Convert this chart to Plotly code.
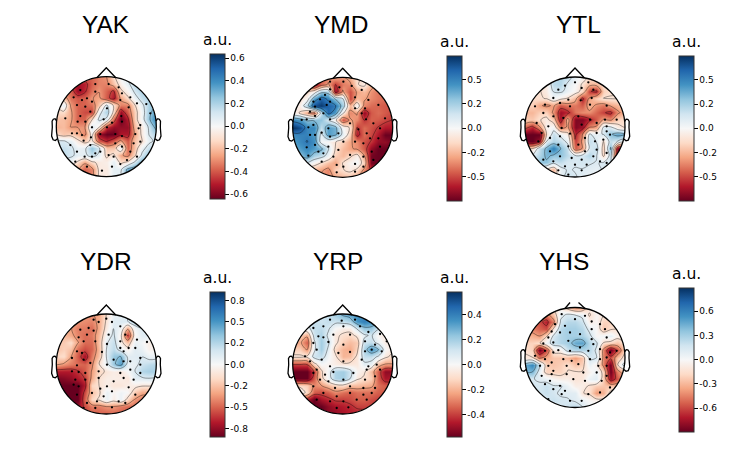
import numpy as np
from plotly import graph_objects as go

W, H = 747, 466

names = ['YAK', 'YMD', 'YTL', 'YDR', 'YRP', 'YHS']

# colour limits of each map
vmax = {'YAK': 0.64, 'YMD': 0.745, 'YTL': 0.75, 'YDR': 0.85, 'YRP': 0.58, 'YHS': 0.89}

ticks = {
    'YAK': [-0.6, -0.4, -0.2, 0, 0.2, 0.4, 0.6],
    'YMD': [-0.5, -0.25, 0, 0.25, 0.5],
    'YTL': [-0.5, -0.25, 0, 0.25, 0.5],
    'YDR': [-0.75, -0.5, -0.25, 0, 0.25, 0.5, 0.75],
    'YRP': [-0.4, -0.2, 0, 0.2, 0.4],
    'YHS': [-0.6, -0.3, 0, 0.3, 0.6],
}
tick_labels = {
    'YAK': ['-0.6', '-0.4', '-0.2', '0.0', '0.2', '0.4', '0.6'],
    'YMD': ['-0.5', '-0.2', '0.0', '0.2', '0.5'],
    'YTL': ['-0.5', '-0.2', '0.0', '0.2', '0.5'],
    'YDR': ['-0.8', '-0.5', '-0.2', '0.0', '0.2', '0.5', '0.8'],
    'YRP': ['-0.4', '-0.2', '0.0', '0.2', '0.4'],
    'YHS': ['-0.6', '-0.3', '0.0', '0.3', '0.6'],
}

# map values, top row first, on a 15x15 grid across the head
yak = [
    [-.38, -.38, -.38, -.38, -.38, -.38, -.32, -.28, -.12, .02, .12, .15, .15, .15, .15],
    [-.45, -.45, -.45, -.54, -.5, -.38, -.32, -.32, -.18, -.04, .06, .18, .22, .22, .22],
    [-.38, -.38, -.38, -.56, -.48, -.35, -.28, -.38, -.48, -.12, -.02, .12, .2, .22, .22],
    [-.2, -.2, -.35, -.4, -.38, -.28, -.25, -.4, -.52, -.25, -.12, .04, .15, .2, .25],
    [-.1, .06, -.28, -.38, -.38, -.35, -.18, .12, -.1, -.32, -.32, -.1, .06, .2, .28],
    [-.12, -.12, -.25, -.38, -.42, -.44, .04, .2, -.12, -.56, -.38, -.15, .02, .22, .4],
    [-.18, -.2, -.25, -.38, -.38, -.1, .12, .06, -.38, -.64, -.5, -.15, .02, .25, .44],
    [-.22, -.2, -.28, -.28, -.28, .1, -.06, -.48, -.56, -.56, -.56, -.2, -.06, .12, .35],
    [-.12, -.18, -.15, -.22, -.32, -.02, -.56, -.64, -.64, -.52, -.52, -.25, -.06, .1, .2],
    [.1, .1, .06, -.06, -.15, -.06, -.38, -.48, -.38, -.25, -.4, -.18, -.1, .06, .12],
    [.15, .15, .12, .04, .06, .25, .12, -.18, -.18, .06, -.38, -.18, .04, .15, .15],
    [.16, .16, .12, .06, .06, .15, .06, -.12, -.06, -.25, -.32, -.12, .12, .25, .25],
    [.02, .02, .02, -.12, -.25, -.12, -.06, -.04, .06, -.12, -.06, .12, .32, .32, .32],
    [-.12, -.12, -.2, -.25, -.38, -.32, -.06, -.06, .06, .06, .32, .38, .38, .38, .38],
    [-.12, -.12, -.2, -.25, -.38, -.32, -.06, -.06, .06, .06, .32, .38, .38, .38, .38],
]
ymd = [
    [-.48, -.48, -.54, -.6, -.48, -.36, -.3, -.34, -.26, -.12, -.1, -.24, -.36, -.36, -.36],
    [-.36, -.36, -.42, -.66, -.42, -.3, -.54, -.38, -.36, -.12, -.06, -.26, -.36, -.36, -.36],
    [-.18, -.18, -.14, -.02, .26, .24, -.66, -.3, -.48, -.3, -.24, -.34, -.4, -.4, -.4],
    [-.12, -.1, 0, .42, .6, .5, .3, .12, -.5, -.24, -.3, -.36, -.4, -.42, -.42],
    [-.06, -.04, .24, .66, .72, .6, .54, .24, -.26, .02, -.36, -.42, -.44, -.46, -.46],
    [-.02, -.12, -.3, -.42, .18, .6, .42, -.06, -.36, -.3, -.66, -.46, -.42, -.46, -.5],
    [.48, .42, .3, .3, .3, .12, -.06, -.48, -.3, -.36, -.54, -.44, -.46, -.5, -.54],
    [.74, .66, .48, .48, .18, .42, .36, 0, -.12, -.54, -.42, -.48, -.54, -.6, -.6],
    [.48, .5, .5, .42, .06, .42, .36, .06, -.18, -.6, -.42, -.5, -.6, -.74, -.74],
    [.42, .48, .54, .46, .02, -.02, -.1, -.18, -.3, -.36, -.48, -.54, -.66, -.66, -.72],
    [.36, .42, .48, .42, .36, .12, -.12, -.24, -.3, -.34, -.46, -.66, -.74, -.74, -.74],
    [.24, .3, .42, .24, .18, .04, -.18, -.24, -.14, -.04, -.3, -.72, -.74, -.74, -.74],
    [.12, .12, .1, -.02, -.12, -.22, -.3, -.1, -.02, .02, -.18, -.72, -.74, -.74, -.74],
    [-.24, -.24, -.24, -.24, -.3, -.36, -.18, -.12, -.06, -.14, -.36, -.54, -.6, -.6, -.6],
    [-.3, -.3, -.3, -.3, -.36, -.36, -.3, -.24, -.24, -.3, -.42, -.48, -.48, -.48, -.48],
]
ytl = [
    [0, 0, 0, .06, .18, .22, .18, .06, -.02, -.12, -.12, -.12, -.12, -.12, -.12],
    [-.12, -.12, -.12, -.05, .2, .22, .08, 0, -.12, -.25, -.25, -.12, -.12, -.12, -.12],
    [-.12, -.12, -.12, -.06, .12, .14, .05, -.03, -.15, -.52, -.58, -.18, -.12, -.12, -.12],
    [-.14, -.14, -.12, -.1, .02, -.06, -.12, -.25, -.58, -.3, -.18, -.1, -.1, -.1, -.12],
    [-.18, -.18, -.3, -.35, -.3, -.46, -.4, -.4, -.46, -.25, -.35, -.4, -.3, -.25, -.18],
    [-.25, -.25, -.18, -.18, -.35, -.64, -.58, -.4, -.35, -.35, -.44, -.52, -.58, -.35, -.25],
    [-.18, -.2, -.12, -.06, -.2, -.64, -.25, -.7, -.7, -.58, -.46, -.3, -.35, -.18, -.12],
    [-.46, -.58, -.35, -.02, .02, -.4, -.3, -.7, -.64, -.35, -.3, .12, .12, -.06, -.12],
    [-.75, -.75, -.75, -.12, .18, .06, -.06, -.58, -.35, .12, .06, .12, .3, .4, .35],
    [-.75, -.75, -.64, .1, .22, .18, .06, -.52, -.3, .18, .1, -.12, .18, .1, -.06],
    [-.12, -.12, .18, .35, .52, .32, .18, -.46, -.32, .12, .18, -.18, .35, -.7, -.75],
    [.12, .12, .22, .35, .3, .3, .2, .12, .14, .22, .12, -.14, .18, -.7, -.75],
    [.12, .12, .3, .3, .14, .18, .12, .12, .14, .12, .1, .12, .12, -.25, -.25],
    [.06, .06, -.06, -.14, -.25, .06, .12, .1, .1, .08, .06, .12, .1, .06, .06],
    [.06, .06, -.06, -.12, -.18, .06, .18, .12, .08, .06, .06, .06, .06, .06, .06],
]
ydr = [
    [-.32, -.32, -.32, -.32, -.35, -.38, -.32, -.12, .06, .06, .12, .15, .12, .12, .12],
    [-.32, -.32, -.32, -.38, -.4, -.42, -.32, -.1, .1, .12, .12, .28, .15, .12, .12],
    [-.32, -.32, -.35, -.44, -.44, -.48, -.32, -.06, .12, .02, -.32, .02, .12, .12, .12],
    [-.25, -.28, -.32, -.42, -.48, -.44, -.28, .02, .15, -.06, -.62, -.02, .1, .1, .1],
    [-.22, -.22, -.15, -.35, -.48, -.48, -.25, .1, .2, -.06, -.25, .06, .02, -.06, -.04],
    [-.25, -.2, -.25, -.48, -.56, -.5, -.28, .12, .22, .06, -.04, .1, .06, -.04, -.02],
    [-.18, -.15, -.35, -.52, -.72, -.44, -.25, .12, .32, .38, .1, .1, .12, .06, .06],
    [-.32, -.38, -.44, -.48, -.5, -.4, -.12, .06, .32, .48, .06, .06, .18, .22, .25],
    [-.68, -.68, -.68, -.62, -.52, -.35, -.18, -.1, -.06, -.1, 0, .12, .25, .28, .28],
    [-.8, -.78, -.75, -.68, -.6, -.32, -.12, -.06, -.06, -.06, -.1, .1, .1, .12, .1],
    [-.85, -.85, -.85, -.85, -.68, -.18, -.12, -.06, -.1, -.1, -.06, -.06, -.1, -.1, -.12],
    [-.85, -.85, -.85, -.85, -.56, -.25, -.15, .06, -.02, .04, 0, -.22, -.32, -.32, -.32],
    [-.85, -.85, -.85, -.85, -.5, -.18, -.1, .06, -.06, .06, -.18, -.38, -.44, -.44, -.44],
    [-.85, -.85, -.85, -.75, -.56, -.44, -.44, -.38, -.38, -.44, -.48, -.48, -.5, -.5, -.5],
    [-.62, -.62, -.62, -.62, -.56, -.52, -.52, -.52, -.5, -.52, -.52, -.52, -.52, -.52, -.52],
]
yrp = [
    [.12, .12, .12, .12, .12, .14, .2, .28, .32, .35, .35, .28, .22, .22, .22],
    [.06, .06, .1, .14, .12, .14, .12, .14, .18, .35, .4, .35, .28, .2, .2],
    [0, 0, .04, .14, .15, .1, 0, -.04, -.04, .1, .22, .22, .1, .06, .06],
    [-.12, -.14, -.22, .12, .18, .06, -.06, -.1, -.12, -.06, .06, .1, -.02, -.06, -.06],
    [-.22, -.22, -.35, .06, .2, .1, -.06, -.14, -.18, -.15, .12, .14, .04, -.04, -.06],
    [-.14, -.14, -.25, .06, .2, .06, -.12, -.2, -.22, -.12, .18, .35, .25, 0, -.06],
    [-.06, -.06, -.06, .12, .14, .02, -.06, -.2, -.18, -.06, .14, .14, .06, -.06, -.12],
    [-.4, -.4, -.4, -.12, 0, -.02, -.04, -.06, -.06, -.06, .06, .04, -.18, -.25, -.25],
    [-.58, -.58, -.58, -.4, -.1, .02, .18, .2, .12, -.02, -.06, -.18, -.35, -.52, -.52],
    [-.58, -.58, -.58, -.35, -.12, .02, .18, .2, .1, -.06, -.1, -.14, -.35, -.48, -.46],
    [-.12, -.12, -.14, -.28, -.25, -.18, -.12, -.1, -.18, -.18, -.2, -.22, -.32, -.35, -.35],
    [.02, .02, -.12, -.35, -.38, -.35, -.28, -.32, -.35, -.32, -.32, -.32, -.35, -.35, -.35],
    [-.22, -.35, -.46, -.58, -.48, -.44, -.4, -.4, -.38, -.35, -.35, -.38, -.4, -.4, -.4],
    [-.46, -.52, -.58, -.58, -.58, -.52, -.48, -.46, -.44, -.4, -.4, -.4, -.44, -.44, -.44],
    [-.52, -.58, -.58, -.58, -.58, -.52, -.52, -.48, -.46, -.46, -.44, -.44, -.44, -.44, -.44],
]
yhs = [
    [-.12, -.12, -.18, -.25, -.12, -.06, -.22, -.38, -.32, -.06, -.02, -.06, -.12, -.12, -.12],
    [-.32, -.38, -.38, -.45, -.25, .08, .15, .12, .08, -.15, -.02, -.12, -.2, -.2, -.2],
    [-.52, -.52, -.58, -.7, -.45, .15, .25, .25, .18, -.06, -.02, -.2, -.2, -.2, -.2],
    [-.45, -.45, -.52, -.58, -.1, .25, .3, .3, .25, .08, 0, -.25, -.15, -.12, -.12],
    [-.32, -.32, -.38, -.15, .16, .26, .3, .3, .28, .18, -.02, .03, .08, -.06, -.06],
    [-.2, -.2, -.15, .04, .2, .26, .3, .45, .48, .25, .16, -.15, -.2, -.25, -.12],
    [-.15, -.2, -.88, -.58, -.06, -.04, .2, .26, .26, .25, .1, -.45, -.88, -.58, -.15],
    [-.1, -.12, -.45, -.32, -.25, -.25, -.28, -.38, -.25, .16, .14, -.45, -.58, -.25, -.06],
    [.45, .58, .2, -.22, -.25, -.22, -.15, -.25, -.2, .06, -.06, -.45, -.88, -.12, .25],
    [.4, .4, .06, -.2, -.2, -.2, -.12, -.12, -.12, -.04, .06, -.2, -.88, -.45, -.25],
    [.14, .14, .1, .06, -.02, -.06, -.06, -.12, -.1, .06, .1, -.22, -.78, -.55, -.38],
    [.16, .16, .16, .2, .14, .14, .06, -.06, -.06, -.15, -.22, -.25, -.25, -.25, -.25],
    [.16, .16, .16, .2, .16, .1, .1, .1, -.12, -.15, -.38, -.32, -.06, .1, .1],
    [.14, .14, .14, .16, .2, .16, .14, .1, .06, -.02, -.06, -.06, .06, .14, .14],
    [.14, .14, .14, .14, .14, .14, .2, .26, .14, .06, .06, .06, .06, .06, .06],
]
maps = {'YAK': yak, 'YMD': ymd, 'YTL': ytl, 'YDR': ydr, 'YRP': yrp, 'YHS': yhs}

# sensor dots, head radius = 150
yak_sensors = [(-33,128),(7,128),(37,118),(-78,110),(-33,105),(47,100),(-98,88),(-58,85),(-73,80),(-43,75),(42,80),(72,88),(-88,65),(-63,60),(2,55),(-48,45),(67,58),(92,70),(120,68),(-78,32),(-123,25),(-63,15),(-86,15),(-8,22),(45,32),(47,15),(132,40),(17,12),(102,5),(-43,-2),(-103,-20),(-88,-20),(-73,-25),(2,-2),(97,-5),(87,-22),(-68,-42),(-108,-55),(-46,-32),(-18,-22),(27,-22),(47,-28),(102,-45),(82,-50),(-88,-75),(-48,-55),(-18,-75),(27,-50),(47,-60),(-65,-90),(-43,-90),(7,-85),(22,-90),(72,-75),(92,-90),(-93,-105),(-58,-120),(-13,-132),(17,-120),(42,-112),(62,-100),(-33,-80)]
ymd_sensors = [(-38,137),(2,137),(27,124),(-10,120),(57,112),(-38,114),(-53,97),(-68,84),(-88,77),(37,90),(77,82),(-48,67),(-83,62),(-98,47),(-38,77),(67,57),(107,67),(37,57),(57,42),(127,27),(-38,24),(-58,42),(-83,34),(-108,24),(-123,22),(-88,7),(-103,0),(-43,-3),(22,12),(70,24),(92,12),(47,-6),(72,-18),(112,-3),(-83,-23),(-98,-23),(-38,-28),(-63,-16),(-13,-18),(82,-33),(107,-33),(2,-43),(-83,-53),(-108,-60),(-73,-73),(-43,-58),(-13,-68),(37,-43),(62,-48),(112,-58),(87,-73),(-103,-85),(-58,-78),(-28,-88),(22,-83),(62,-88),(92,-98),(-63,-103),(-18,-113),(37,-110),(2,-118),(62,-118),(37,-133),(-18,-135)]
ytl_sensors = [(-30,124),(0,134),(40,134),(-50,112),(20,117),(55,112),(-65,87),(-20,82),(17,80),(50,87),(-90,67),(-120,62),(-15,62),(-45,72),(95,64),(45,67),(-95,42),(-65,32),(-35,27),(10,32),(45,22),(90,22),(125,22),(-115,12),(-100,-18),(-80,2),(-40,-3),(20,7),(65,12),(95,2),(-75,-33),(-45,-28),(-15,-20),(30,-33),(65,-18),(105,-23),(95,-13),(-110,-43),(-50,-53),(-20,-58),(10,-53),(60,-43),(85,-38),(-75,-73),(-45,-88),(30,-73),(65,-68),(95,-78),(-95,-98),(-65,-103),(-10,-93),(20,-98),(55,-88),(75,-103),(95,-108),(-30,-118),(0,-113),(35,-113),(-20,-143),(20,-130),(-50,-130)]
ydr_sensors = [(0,136),(-23,126),(-38,133),(-53,108),(17,126),(42,113),(-78,103),(-38,100),(-58,88),(-83,80),(7,88),(57,88),(-68,68),(-33,68),(2,60),(42,68),(92,73),(122,66),(-88,38),(-73,33),(-13,36),(42,48),(67,48),(87,48),(52,38),(-103,18),(-68,13),(22,13),(52,8),(102,18),(-88,-4),(-48,3),(2,-2),(72,8),(102,-2),(-103,-22),(-83,-24),(-63,-27),(-23,-22),(42,-27),(72,-17),(102,-27),(-93,-47),(-63,-47),(-23,-42),(22,-52),(52,-42),(82,-47),(-98,-62),(-83,-67),(-18,-74),(2,-67),(67,-70),(17,-82),(-88,-92),(-43,-87),(-8,-97),(87,-92),(-58,-117),(-28,-112),(37,-112),(57,-117),(-68,-132),(-33,-132),(17,-130)]
yrp_sensors = [(-38,133),(-3,130),(37,133),(-58,113),(2,113),(-88,108),(52,113),(77,96),(-73,83),(-58,80),(-28,88),(22,88),(112,90),(-88,63),(-43,66),(2,58),(67,68),(97,58),(132,68),(-78,43),(-13,33),(22,36),(87,43),(67,38),(117,38),(-113,23),(-63,13),(-98,8),(-38,-7),(2,8),(57,13),(77,-7),(102,-2),(-78,-17),(-53,-32),(-88,-27),(-28,-24),(32,-27),(72,-17),(112,-17),(-68,-47),(-43,-52),(2,-47),(67,-47),(97,-37),(-88,-67),(-23,-72),(22,-67),(62,-72),(97,-72),(-58,-87),(-18,-97),(22,-87),(62,-92),(87,-87),(-78,-107),(-38,-112),(2,-112),(42,-107),(72,-107),(-18,-132),(17,-130)]
yhs_sensors = [(-40,130),(0,115),(30,125),(-60,100),(-30,95),(50,108),(75,100),(-70,78),(-45,75),(-15,75),(50,85),(90,85),(15,70),(-80,60),(-20,50),(-65,45),(50,55),(95,60),(-95,42),(15,30),(-50,22),(55,40),(75,25),(125,20),(-90,20),(-65,15),(-15,20),(40,20),(105,15),(-120,5),(-90,-5),(-70,-15),(-35,-5),(-10,-10),(45,-5),(75,-5),(95,0),(-105,-25),(-80,-25),(-65,-40),(-25,-25),(10,-20),(70,-25),(95,-25),(-100,-55),(-70,-50),(-25,-50),(25,-45),(65,-45),(95,-55),(-75,-70),(-45,-85),(-5,-65),(30,-70),(80,-70),(-90,-80),(-65,-95),(-30,-100),(40,-110),(75,-105),(105,-90),(-40,-110),(-15,-130),(20,-130),(-80,-125)]
sensors = {'YAK': yak_sensors, 'YMD': ymd_sensors, 'YTL': ytl_sensors,
           'YDR': ydr_sensors, 'YRP': yrp_sensors, 'YHS': yhs_sensors}

# matplotlib RdBu_r
rdbu = ['#67001f', '#b2182b', '#d6604d', '#f4a582', '#fddbc7', '#f7f7f7',
        '#d1e5f0', '#92c5de', '#4393c3', '#2166ac', '#053061']
colorscale = [[i / 10, c] for i, c in enumerate(rdbu)]

# pixel placement: head centre, colour bar left/top/bottom, title and a.u. centres
head_px = {'YAK': (106.3, 126.7), 'YMD': (342.7, 127.3), 'YTL': (575, 127),
           'YDR': (106.3, 364), 'YRP': (342.7, 364), 'YHS': (575, 357.5)}
bar_px = {'YAK': (210, 53.7, 198.7), 'YMD': (446.7, 55.7, 200.7), 'YTL': (678.7, 55.7, 200.7),
          'YDR': (210, 292.3, 437), 'YRP': (446.7, 292.3, 437.3), 'YHS': (678.7, 287.3, 431.7)}
title_px = {'YAK': (106, 25), 'YMD': (340.7, 25), 'YTL': (578, 25),
            'YDR': (106, 261.7), 'YRP': (338, 261.7), 'YHS': (564, 261)}
unit_px = {'YAK': (217.7, 40), 'YMD': (454, 42), 'YTL': (686, 42),
           'YDR': (217.7, 278), 'YRP': (454, 278), 'YHS': (686, 274)}

R = 150
half = 60  # px from head centre to axes edge
grid = np.linspace(-R, R, 15)
ear_x = [.497, .510, .518, .5299, .5419, .54, .547, .532, .510, .489]
ear_y = [.0555, .0775, .0783, .0746, .0555, -.0055, -.0932, -.1313, -.1384, -.1199]


def line_path(xs, ys):
    return 'M' + ' L'.join(f'{x:.1f},{y:.1f}' for x, y in zip(xs, ys))


def mask_path():
    # square with a round hole, everything outside the head is white
    s, k = 3 * R, 0.5523 * R
    p = f'M{-s},{-s} L{s},{-s} L{s},{s} L{-s},{s} Z '
    p += (f'M{R},0 C{R},{k} {k},{R} 0,{R} C{-k},{R} {-R},{k} {-R},0 '
          f'C{-R},{-k} {-k},{-R} 0,{-R} C{k},{-R} {R},{-k} {R},0 Z')
    return p


fig = go.Figure()
shapes, annotations, axes = [], [], {}
line = dict(color='black', width=1.3)

for i, name in enumerate(names, start=1):
    cx, cy = head_px[name]
    xa, ya = f'x{i}', f'y{i}'
    axes[f'xaxis{i}'] = dict(domain=[(cx - half) / W, (cx + half) / W], range=[-180, 180],
                             visible=False, anchor=ya)
    axes[f'yaxis{i}'] = dict(domain=[1 - (cy + half) / H, 1 - (cy - half) / H], range=[-180, 180],
                             visible=False, anchor=xa)

    z = maps[name]
    v = vmax[name]
    bx, bt, bb = bar_px[name]
    fig.add_trace(go.Heatmap(
        x=grid, y=grid[::-1], z=z, xaxis=xa, yaxis=ya, zmin=-v, zmax=v, zsmooth='best',
        colorscale=colorscale,
        colorbar=dict(x=bx / W, xanchor='left', xpad=0, y=1 - bb / H, yanchor='bottom', ypad=0,
                      lenmode='pixels', len=bb - bt, thicknessmode='pixels', thickness=15.3,
                      outlinewidth=1, outlinecolor='#333333', tickmode='array',
                      tickvals=ticks[name], ticktext=tick_labels[name], ticks='outside',
                      ticklen=3.5, tickwidth=1, tickcolor='black',
                      tickfont=dict(family='DejaVu Sans', size=9, color='black'))))
    size = 2 * v / 7
    fig.add_trace(go.Contour(
        x=grid, y=grid[::-1], z=z, xaxis=xa, yaxis=ya, showscale=False, hoverinfo='skip',
        contours=dict(coloring='none', start=-v + size, end=v - size, size=size),
        line=dict(color='rgba(0,0,0,0.75)', width=0.5, smoothing=1)))
    pts = sensors[name]
    fig.add_trace(go.Scatter(
        x=[p[0] for p in pts], y=[p[1] for p in pts], xaxis=xa, yaxis=ya, mode='markers',
        marker=dict(color='black', size=2.3), hoverinfo='skip'))

    # head outline on top of the map
    shapes.append(dict(type='path', path=mask_path(), xref=xa, yref=ya, fillcolor='white',
                       fillrule='evenodd', line=dict(width=0)))
    shapes.append(dict(type='circle', xref=xa, yref=ya, x0=-R, x1=R, y0=-R, y1=R, line=line))
    if name == 'YHS':
        shapes.append(dict(type='path', xref=xa, yref=ya, line=line,
                           path=line_path([-.2 * R, -.1 * R], [.98 * R, 1.1 * R])))
        shapes.append(dict(type='path', xref=xa, yref=ya, line=line,
                           path=line_path([.07 * R, .2 * R], [1.1 * R, .98 * R])))
    else:
        shapes.append(dict(type='path', xref=xa, yref=ya, line=line,
                           path=line_path([-.19 * R, 0, .19 * R], [.98 * R, 1.18 * R, .98 * R])))
    for sign in (-1, 1):
        shapes.append(dict(type='path', xref=xa, yref=ya, line=line,
                           path=line_path([sign * 2 * R * e for e in ear_x],
                                          [2 * R * e for e in ear_y])))

    tx, ty = title_px[name]
    annotations.append(dict(text=name, x=tx / W, y=1 - ty / H, xref='paper', yref='paper',
                            showarrow=False, xanchor='center', yanchor='middle',
                            font=dict(family='Liberation Sans', size=24.5, color='black')))
    ux, uy = unit_px[name]
    annotations.append(dict(text='a.u.', x=ux / W, y=1 - uy / H, xref='paper', yref='paper',
                            showarrow=False, xanchor='center', yanchor='middle',
                            font=dict(family='DejaVu Sans', size=15.5, color='black')))

fig.update_layout(width=W, height=H, margin=dict(l=0, r=0, t=0, b=0), showlegend=False,
                  plot_bgcolor='white', paper_bgcolor='white',
                  shapes=shapes, annotations=annotations, **axes)
fig.write_html("out.html", post_script="document.body.style.margin='0';",
               config={'displayModeBar': False})
